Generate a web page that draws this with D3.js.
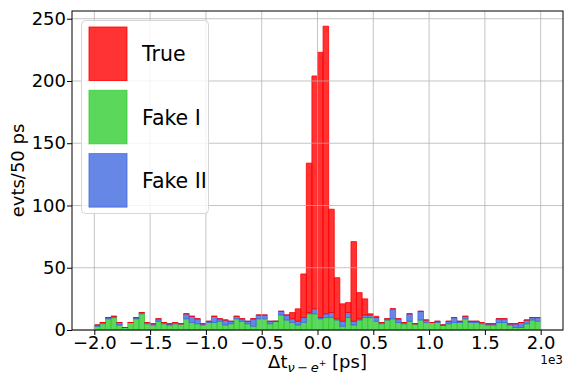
<!DOCTYPE html>
<html><head><meta charset="utf-8">
<script src="https://cdn.jsdelivr.net/npm/d3@7"></script>
<style>
html,body{margin:0;padding:0;background:#fff;}
text{font-family:"DejaVu Sans",sans-serif;}
</style></head>
<body>
<svg id="chart" width="566" height="374"></svg>
<script>
// bin left edges (ps), 50 ps wide
const binStarts = d3.range(-2000, 2000, 50);
const binWidth = 50;
// counts per bin, stacked order: Fake I (bottom), Fake II, True (top)
const fakeI = [3,5,9,10,4,2,6,9,13,5, 4,7,5,4,5,5,9,6,5,4, 6,6,7,4,5,9,7,5,3,9,
               9,5,7,12,8,6,4,6,13,13, 9,10,10,8,3,10,4,8,10,10, 7,5,8,9,6,5,7,5,8,6,
               6,6,4,5,6,6,9,6,6,5, 4,4,6,6,4,2,2,5,8,7];
const fakeII = [1,1,1,1,2,0,0,1,1,1, 1,2,1,1,1,0,4,5,4,1, 1,5,2,4,2,2,2,2,6,3,
                3,2,0,3,4,3,3,4,1,4, 1,3,4,1,4,4,3,1,2,2, 3,1,1,8,3,1,6,0,7,2,
                0,1,0,2,4,1,2,1,1,1, 1,1,3,3,1,3,4,3,2,3];
const trueEv = [0,0,0,0,0,0,0,0,0,0, 0,0,0,0,0,0,0,0,0,0, 0,0,0,0,0,0,0,0,0,0,
                0,0,0,0,0,5,10,35,120,187, 213,231,83,33,14,8,64,21,13,1, 1,0,0,0,0,0,0,0,0,0,
                0,0,0,0,0,0,0,0,0,0, 0,0,0,0,0,0,0,0,0,0];
const seriesKeys = ["fakeI","fakeII","true"];
const seriesLabels = {true:"True", fakeI:"Fake I", fakeII:"Fake II"};
const seriesColors = {true:"red", fakeI:"limegreen", fakeII:"royalblue"};
const legendOrder = ["true","fakeI","fakeII"];
const xTicks = [-2000,-1500,-1000,-500,0,500,1000,1500,2000];
const xTickLabels = ["\u22122.0","\u22121.5","\u22121.0","\u22120.5","0.0","0.5","1.0","1.5","2.0"];
const yTicks = [0,50,100,150,200,250];

const rows = binStarts.map((b,i)=>({x0:b, x1:b+binWidth, fakeI:fakeI[i], fakeII:fakeII[i], true:trueEv[i]}));
const stacked = d3.stack().keys(seriesKeys)(rows);
const maxTot = d3.max(rows, r => r.fakeI + r.fakeII + r.true);

const svg = d3.select("#chart");
const L = 72, R = 563, T = 11, B = 330;
const x = d3.scaleLinear().domain([-2200, 2200]).range([L, R]);
const y = d3.scaleLinear().domain([0, maxTot*1.05]).range([B, T]);

// bars
stacked.forEach(layer => {
  const col = seriesColors[layer.key];
  const g = svg.append("g");
  layer.forEach(d => {
    const x0 = x(d.data.x0), x1 = x(d.data.x1);
    const yTop = y(d[1]), yBot = y(d[0]);
    if (yBot - yTop > 0) {
      g.append("rect").attr("x", x0).attr("y", yTop).attr("width", x1-x0).attr("height", yBot-yTop)
        .attr("fill", col).attr("fill-opacity", 0.8);
    }
    g.append("path").attr("d", `M${x0},${yBot}V${yTop}H${x1}V${yBot}Z`)
      .attr("fill","none").attr("stroke", col).attr("stroke-opacity", 0.8).attr("stroke-width", 1);
  });
});

// grid (on top)
const grid = svg.append("g").attr("stroke", "#b0b0b0").attr("stroke-opacity", 0.75).attr("stroke-width", 1);
xTicks.forEach(t => grid.append("line").attr("x1", x(t)).attr("x2", x(t)).attr("y1", T).attr("y2", B));
yTicks.forEach(t => grid.append("line").attr("x1", L).attr("x2", R).attr("y1", y(t)).attr("y2", y(t)));

// axes
const xAxis = d3.axisBottom(x).tickValues(xTicks).tickFormat((d,i)=>xTickLabels[i]).tickSizeOuter(0).tickSize(5).tickPadding(1);
const yAxis = d3.axisLeft(y).tickValues(yTicks).tickSizeOuter(0).tickSize(5).tickPadding(1);
const gx = svg.append("g").attr("transform", `translate(0,${B})`).call(xAxis);
const gy = svg.append("g").attr("transform", `translate(${L},0)`).call(yAxis);
[gx, gy].forEach(g => {
  g.select(".domain").remove();
  g.selectAll("text").attr("font-size", 18).attr("fill", "#000").attr("font-family", "DejaVu Sans");
  g.selectAll("line").attr("stroke", "#000");
});
// frame
svg.append("rect").attr("x", L).attr("y", T).attr("width", R-L).attr("height", B-T)
  .attr("fill","none").attr("stroke","#000").attr("stroke-width",1);

// labels
svg.append("text").attr("x", (L+R)/2).attr("y", 368).attr("text-anchor","middle").attr("font-size",18)
  .html('\u0394t<tspan font-size="13" dy="4" font-style="italic">\u03bd</tspan><tspan font-size="13">\u2009\u2212\u2009</tspan><tspan font-size="13" font-style="italic">e</tspan><tspan font-size="9" dy="-6">+</tspan><tspan dy="2"> [ps]</tspan>');
svg.append("text").attr("transform", `translate(24,${(T+B)/2}) rotate(-90)`).attr("text-anchor","middle")
  .attr("font-size",18).text("evts/50 ps");
svg.append("text").attr("x", R).attr("y", 364).attr("text-anchor","end").attr("font-size",12).text("1e3");

// legend
const lg = svg.append("g");
lg.append("rect").attr("x", 81.5).attr("y", 20.5).attr("width", 127).attr("height", 193).attr("rx", 4)
  .attr("fill","#fff").attr("fill-opacity",0.8).attr("stroke","#d6d6d6").attr("stroke-width",1);
legendOrder.forEach((k,i) => {
  const yy = 27 + i*63.3;
  lg.append("rect").attr("x", 89).attr("y", yy).attr("width", 38).attr("height", 53.5)
    .attr("fill", seriesColors[k]).attr("fill-opacity",0.8)
    .attr("stroke", seriesColors[k]).attr("stroke-opacity",0.8).attr("stroke-width",1);
  lg.append("text").attr("x", 142).attr("y", yy + 27).attr("dy","0.36em").attr("font-size",20.5)
    .text(seriesLabels[k]);
});
</script>
</body></html>
